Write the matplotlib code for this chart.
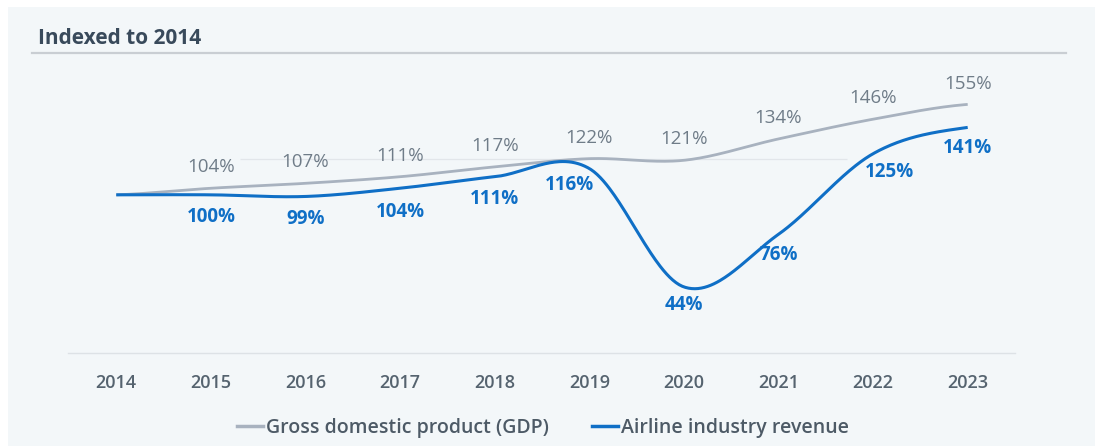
import numpy as np
import matplotlib
matplotlib.use("Agg")
import matplotlib.pyplot as plt
from matplotlib.lines import Line2D

years = [2014, 2015, 2016, 2017, 2018, 2019, 2020, 2021, 2022, 2023]
gdp = [100, 104, 107, 111, 117, 122, 121, 134, 146, 155]
airline = [100, 100, 99, 104, 111, 116, 44, 76, 125, 141]
gdp_labels = ["", "104%", "107%", "111%", "117%", "122%", "121%", "134%", "146%", "155%"]
air_labels = ["", "100%", "99%", "104%", "111%", "116%", "44%", "76%", "125%", "141%"]
# label nudges (in points), as placed in the original
air_label_dx = [0, 0, 0, 0, 0, -14, 0, 0, 12, 0]
air_label_dy = [0, -16, -16, -17, -16, -12, -13, -15, -13, -15]

BG = "#f3f7f9"
GDP_C = "#a8b2bf"
GDP_T = "#6f7c88"
AIR_C = "#0f6fc6"
TITLE_C = "#394a5b"
TICK_C = "#55636f"

plt.rcParams['font.family'] = ['Open Sans', 'DejaVu Sans']


def catmull_rom(x, y, n=60):
    x = np.asarray(x, float)
    y = np.asarray(y, float)
    m = np.zeros_like(y)
    m[1:-1] = (y[2:] - y[:-2]) / 2.0
    m[0] = (y[1] - y[0]) / 2.0
    m[-1] = (y[-1] - y[-2]) / 2.0
    xs, ys = [], []
    for i in range(len(x) - 1):
        t = np.linspace(0, 1, n, endpoint=(i == len(x) - 2))
        h00 = 2 * t**3 - 3 * t**2 + 1
        h10 = t**3 - 2 * t**2 + t
        h01 = -2 * t**3 + 3 * t**2
        h11 = t**3 - t**2
        xs.append(x[i] + t * (x[i + 1] - x[i]))
        ys.append(h00 * y[i] + h10 * m[i] + h01 * y[i + 1] + h11 * m[i + 1])
    return np.concatenate(xs), np.concatenate(ys)


W, H = 1095, 446
fig = plt.figure(figsize=(W / 100, H / 100), dpi=100)
fig.patch.set_facecolor("white")

# panel background
panel = fig.add_axes([8 / W, 0, 1 - 8 / W, 1 - 7 / H])
panel.set_facecolor(BG)
panel.set_xticks([]); panel.set_yticks([])
for s in panel.spines.values():
    s.set_visible(False)
panel.set_zorder(0)

# title and underline
fig.text(38 / W, 1 - 39 / H, "Indexed to 2014", fontsize=15, fontweight="bold",
         color=TITLE_C, va="center", ha="left")
fig.add_artist(Line2D([32 / W, 1066 / W], [1 - 52.5 / H, 1 - 52.5 / H],
                      color="#c9ced3", lw=1.6, transform=fig.transFigure))

ax = fig.add_axes([68 / W, 93 / H, (1015 - 68) / W, (353 - 60) / H])
ax.set_facecolor("none")
ax.set_zorder(1)
ax.set_xlim(2013.49, 2023.5)
ax.set_ylim(3.8, 182.0)

# faint guide line
ax.hlines(122, 2015.31, 2021.72, color="#e2e6ea", lw=0.9, zorder=1)

gx, gy = catmull_rom(years, gdp)
axx, axy = catmull_rom(years, airline)
ax.plot(gx, gy, color=GDP_C, lw=2.0, solid_capstyle="butt", zorder=3)
ax.plot(axx, axy, color=AIR_C, lw=2.2, solid_capstyle="butt", zorder=4)

for i, yr in enumerate(years):
    if gdp_labels[i]:
        ax.annotate(gdp_labels[i], (yr, gdp[i]), xytext=(0, 15), textcoords="offset points",
                    ha="center", va="center", fontsize=13.5, fontweight="medium",
                    color=GDP_T, zorder=5)
    if air_labels[i]:
        ax.annotate(air_labels[i], (yr, airline[i]), xytext=(air_label_dx[i], air_label_dy[i]),
                    textcoords="offset points", ha="center", va="center", fontsize=13.5,
                    fontweight="bold", color=AIR_C, zorder=5)

ax.set_xticks(years)
ax.set_xticklabels([str(y) for y in years], fontsize=13, color=TICK_C, fontweight="semibold")
ax.tick_params(axis="x", length=0, pad=15)
ax.set_yticks([])
for k in ["top", "left", "right"]:
    ax.spines[k].set_visible(False)
ax.spines["bottom"].set_color("#dde2e6")
ax.spines["bottom"].set_linewidth(1.0)

handles = [Line2D([], [], color=GDP_C, lw=2.5), Line2D([], [], color=AIR_C, lw=2.5)]
fig.legend(handles, ["Gross domestic product (GDP)", "Airline industry revenue"],
           loc="center", bbox_to_anchor=(543 / W, 1 - 428 / H), ncol=2, frameon=False,
           handlelength=1.35, handletextpad=0.15, columnspacing=2.2,
           prop={"size": 14, "weight": "semibold"}, labelcolor="#4d5a66")

fig.savefig("out.png", dpi=100, facecolor=fig.get_facecolor())
